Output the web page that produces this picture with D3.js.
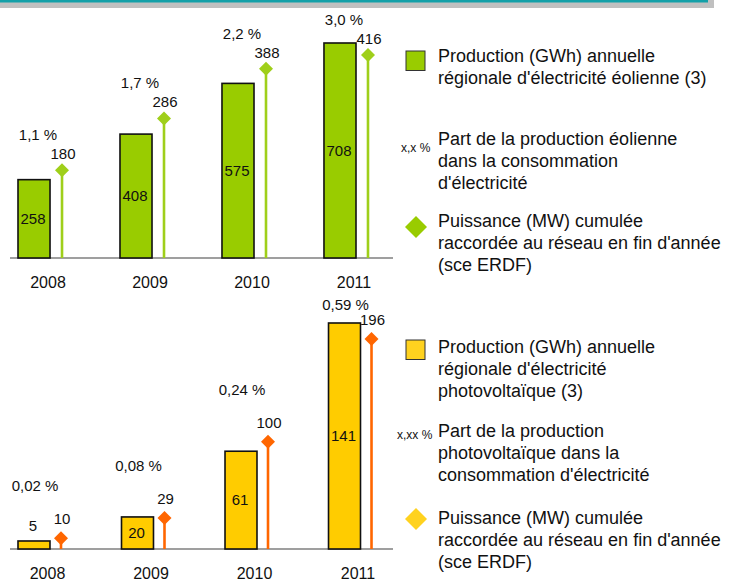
<!DOCTYPE html>
<html>
<head>
<meta charset="utf-8">
<script src="https://cdn.jsdelivr.net/npm/d3@7"></script>
<style>
  body { margin: 0; background: #fff; }
  svg text { font-family: "Liberation Sans", Arial, sans-serif; fill: #111; }
</style>
</head>
<body>
<svg id="chart" width="737" height="585"></svg>
<script>
var years = ["2008", "2009", "2010", "2011"];

// éolien
var windProd = [258, 408, 575, 708];      // GWh
var windShare = [1.1, 1.7, 2.2, 3.0];     // %
var windPower = [180, 286, 388, 416];     // MW

// photovoltaïque
var solarProd = [5, 20, 61, 141];
var solarShare = [0.02, 0.08, 0.24, 0.59];
var solarPower = [10, 29, 100, 196];

var windLegend = [
    ["Production (GWh) annuelle", "régionale d'électricité éolienne (3)"],
    ["Part de la production éolienne", "dans la consommation", "d'électricité"],
    ["Puissance (MW) cumulée", "raccordée au réseau en fin d'année", "(sce ERDF)"]
];
var solarLegend = [
    ["Production (GWh) annuelle", "régionale d'électricité", "photovoltaïque (3)"],
    ["Part de la production", "photovoltaïque dans la", "consommation d'électricité"],
    ["Puissance (MW) cumulée", "raccordée au réseau en fin d'année", "(sce ERDF)"]
];

var svg = d3.select("#chart");

// bandeau du haut
svg.append("rect").attr("x", 0).attr("y", 0).attr("width", 714).attr("height", 8).attr("fill", "#c0c0c0");
svg.append("rect").attr("x", 0).attr("y", 0).attr("width", 708).attr("height", 2.5).attr("fill", "#13a0a8");

function drawPanel(p) {
    var g = svg.append("g");

    var x = d3.scaleBand().domain(years).range(p.xRange)
        .paddingInner(p.pad).paddingOuter(0);
    var yProd = d3.scaleLinear().domain([0, d3.max(p.prod)]).range([p.base, p.prodTop]);
    var yPow = d3.scaleLinear().domain([0, d3.max(p.power)]).range([p.base, p.powTop]);
    var bw = x.bandwidth();
    var stemX = function (i) { return x(years[i]) + bw / 2 + p.stemOff; };

    // baseline
    g.append("line").attr("x1", 10).attr("x2", 393)
        .attr("y1", p.base).attr("y2", p.base)
        .attr("stroke", "#7f7f7f").attr("stroke-width", 1.5);

    // bars
    g.selectAll(".bar").data(p.prod).enter().append("rect")
        .attr("x", function (d, i) { return x(years[i]); })
        .attr("y", function (d) { return yProd(d); })
        .attr("width", bw)
        .attr("height", function (d) { return p.base - yProd(d); })
        .attr("fill", p.barColor).attr("stroke", "#111").attr("stroke-width", 1.6);

    // stems + diamonds
    g.selectAll(".stem").data(p.power).enter().append("line")
        .attr("x1", function (d, i) { return stemX(i); })
        .attr("x2", function (d, i) { return stemX(i); })
        .attr("y1", p.base).attr("y2", function (d) { return yPow(d); })
        .attr("stroke", p.stemColor).attr("stroke-width", 2.6);
    g.selectAll(".dia").data(p.power).enter().append("path")
        .attr("d", "M0,-7L7,0L0,7L-7,0Z")
        .attr("transform", function (d, i) { return "translate(" + stemX(i) + "," + yPow(d) + ")"; })
        .attr("fill", p.stemColor);

    // production values
    g.selectAll(".val").data(p.prod).enter().append("text")
        .attr("x", function (d, i) { return x(years[i]) + bw / 2 - 1; })
        .attr("y", function (d) {
            var top = yProd(d), h = p.base - top;
            return h < 16 ? top - 10 : (top + p.base) / 2 + 5;
        })
        .attr("text-anchor", "middle").attr("font-size", 15)
        .text(function (d) { return d; });

    // power values
    g.selectAll(".pow").data(p.power).enter().append("text")
        .attr("x", function (d, i) { return stemX(i) + 1; })
        .attr("y", function (d) { return yPow(d) - p.powLift + 5; })
        .attr("text-anchor", "middle").attr("font-size", 15)
        .text(function (d) { return d; });

    // share
    g.selectAll(".share").data(p.share).enter().append("text")
        .attr("x", function (d, i) { return x(years[i]) + bw / 2 + p.shareOff; })
        .attr("y", function (d, i) { return Math.max(p.shareMin, yPow(p.power[i]) - p.shareLift) + 5; })
        .attr("text-anchor", "middle").attr("font-size", 15)
        .text(function (d) { return d.toFixed(p.dec).replace(".", ",") + " %"; });

    // year axis
    var axis = d3.axisBottom(x).tickSize(0).tickPadding(0);
    var ax = g.append("g").attr("transform", "translate(" + (p.stemOff / 2) + "," + (p.base + 18) + ")").call(axis);
    ax.select(".domain").remove();
    ax.selectAll("text").attr("font-size", 16).attr("dy", 0).attr("y", 12)
        .style("font-family", "Liberation Sans, Arial, sans-serif").attr("fill", "#111");

    // legend
    var lg = g.append("g");
    lg.append("rect").attr("x", 406).attr("y", p.legendTop).attr("width", 19).attr("height", 19.5)
        .attr("fill", p.legendFill).attr("stroke", "#333").attr("stroke-width", 1);
    lg.append("path").attr("d", "M0,-11L11,0L0,11L-11,0Z")
        .attr("transform", "translate(416," + p.legendDia + ")")
        .attr("fill", p.legendDiaFill);
    lg.append("text").attr("x", p.markX).attr("y", p.markY).attr("font-size", 12).text(p.mark);

    p.legend.forEach(function (lines, k) {
        lines.forEach(function (s, j) {
            lg.append("text").attr("x", 438).attr("y", p.legendY[k] + j * 22)
                .attr("font-size", 18).text(s);
        });
    });
}

drawPanel({
    prod: windProd, share: windShare, power: windPower, dec: 1,
    xRange: [18, 356], pad: 0.686, base: 258, prodTop: 43, powTop: 55,
    stemOff: 28, barColor: "#99cc00", stemColor: "#9fcf1a",
    powLift: 16, shareLift: 35, shareMin: 20, shareOff: 4,
    legend: windLegend, legendTop: 51, legendFill: "#99cc00",
    legendDia: 227, legendDiaFill: "#99cc00",
    mark: "x,x %", markX: 401, markY: 152,
    legendY: [61.5, 144.5, 226.5]
});

drawPanel({
    prod: solarProd, share: solarShare, power: solarPower, dec: 2,
    xRange: [18, 360.5], pad: 0.691, base: 549, prodTop: 323, powTop: 339,
    stemOff: 27, barColor: "#ffcc00", stemColor: "#ff6600",
    powLift: 19, shareLift: 52, shareMin: 305, shareOff: 1,
    legend: solarLegend, legendTop: 340, legendFill: "#ffd21f",
    legendDia: 519, legendDiaFill: "#ffd21f",
    mark: "x,xx %", markX: 397, markY: 439,
    legendY: [352.5, 436.5, 523.5]
});
</script>
</body>
</html>
